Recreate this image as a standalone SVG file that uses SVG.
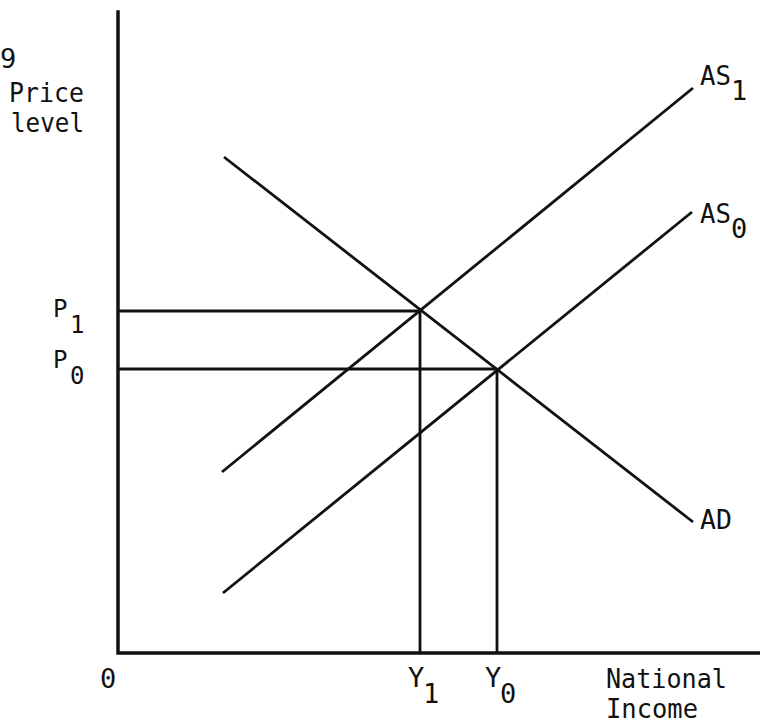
<svg xmlns="http://www.w3.org/2000/svg" width="760" height="723" viewBox="0 0 760 723">
<style>
text{font-family:"DejaVu Sans Mono","Liberation Mono",monospace;font-size:27px;fill:#111}
.sm{font-size:24px}
.ax{stroke:#111;stroke-width:3.5;fill:none;stroke-linecap:square}
.ln{stroke:#111;stroke-width:2.8;fill:none}
</style>
<rect width="760" height="723" fill="#fff"/>
<g id="axes">
<polyline class="ax" points="118,12 118,653 760,653"/>
</g>
<g id="connectors">
<line id="AD-line" class="ln" x1="224" y1="157" x2="693" y2="522"/>
<line id="AS1-line" class="ln" x1="222" y1="472" x2="693" y2="88"/>
<line id="AS0-line" class="ln" x1="223" y1="593" x2="692" y2="212"/>
<line class="ln" x1="118" y1="311" x2="420" y2="311"/>
<line class="ln" x1="118" y1="369" x2="497" y2="369"/>
<line class="ln" x1="420" y1="311" x2="420" y2="653"/>
<line class="ln" x1="497" y1="369" x2="497" y2="653"/>
</g>
<g id="label-9"><text x="0" y="68">9</text></g>
<g id="label-price"><text x="9" y="102" textLength="75" lengthAdjust="spacingAndGlyphs">Price</text><text x="11" y="132" textLength="73" lengthAdjust="spacingAndGlyphs">level</text></g>
<g id="label-P1"><text class="sm" x="53" y="317">P</text><text class="sm" x="70" y="333">1</text></g>
<g id="label-P0"><text class="sm" x="53" y="368">P</text><text class="sm" x="70" y="384">0</text></g>
<g id="label-AS1"><text x="700" y="85" textLength="31" lengthAdjust="spacingAndGlyphs">AS</text><text x="731" y="100">1</text></g>
<g id="label-AS0"><text x="700" y="223" textLength="31" lengthAdjust="spacingAndGlyphs">AS</text><text x="731" y="238">0</text></g>
<g id="label-AD"><text x="700" y="529" textLength="32" lengthAdjust="spacingAndGlyphs">AD</text></g>
<g id="label-origin"><text x="100" y="688">0</text></g>
<g id="label-Y1"><text x="408" y="687">Y</text><text x="423" y="703">1</text></g>
<g id="label-Y0"><text x="485" y="687">Y</text><text x="500" y="703">0</text></g>
<g id="label-income"><text x="606" y="688" textLength="121" lengthAdjust="spacingAndGlyphs">National</text><text x="606" y="718" textLength="92" lengthAdjust="spacingAndGlyphs">Income</text></g>
</svg>
